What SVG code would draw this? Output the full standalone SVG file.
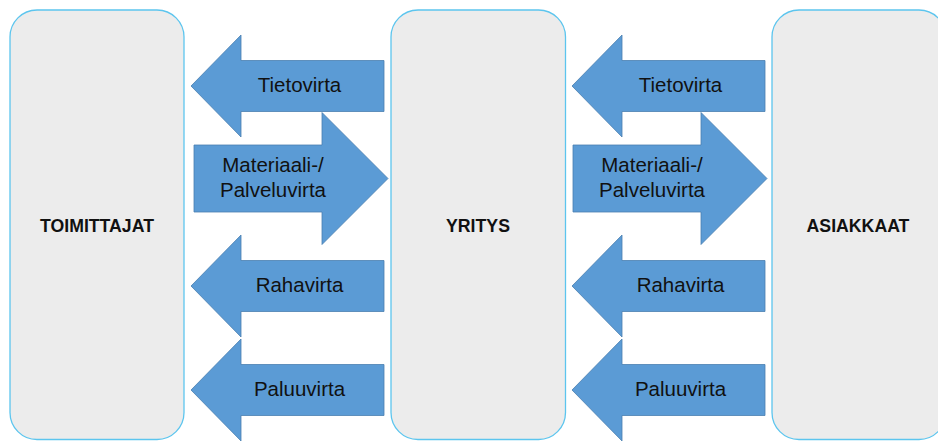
<svg xmlns="http://www.w3.org/2000/svg" width="938" height="441" viewBox="0 0 938 441">
  <defs>
    <style>
      .box { fill: #ececec; stroke: #5cc5ee; stroke-width: 1.3; }
      .arrow { fill: #5b9bd5; stroke: #4a7fb0; stroke-width: 0.8; }
      .lbl { font-family: "Liberation Sans", Arial, sans-serif; font-size: 20.5px; fill: #111; text-anchor: middle; }
      .title { font-family: "Liberation Sans", Arial, sans-serif; font-size: 17.7px; font-weight: bold; fill: #111; text-anchor: middle; }
    </style>
    <!-- leftward arrow, tip at origin -->
    <path id="arrowLeft" d="M0,0 L50,-51 L50,-25.5 L193,-25.5 L193,25.5 L50,25.5 L50,51 Z"/>
    <!-- rightward arrow, tip at origin -->
    <path id="arrowRight" d="M0,0 L-66,-66 L-66,-33.5 L-194,-33.5 L-194,33.5 L-66,33.5 L-66,66 Z"/>
  </defs>
  <rect width="938" height="441" fill="#ffffff"/>

  <g id="toimittajat">
    <rect class="box" x="10" y="10" width="174" height="429.5" rx="27" ry="27"/>
    <text class="title" x="97" y="231.5">TOIMITTAJAT</text>
  </g>
  <g id="yritys">
    <rect class="box" x="391" y="10" width="174.5" height="429.5" rx="27" ry="27"/>
    <text class="title" x="478" y="231.5">YRITYS</text>
  </g>
  <g id="asiakkaat">
    <rect class="box" x="772" y="10" width="174" height="429.5" rx="27" ry="27"/>
    <text class="title" x="858" y="231.5">ASIAKKAAT</text>
  </g>

  <g id="connectors">
    <!-- between TOIMITTAJAT and YRITYS -->
    <g id="flow-left-tieto">
      <use href="#arrowLeft" class="arrow" x="191" y="86"/>
      <text class="lbl" x="299.5" y="92">Tietovirta</text>
    </g>
    <g id="flow-left-materiaali">
      <use href="#arrowRight" class="arrow" x="388" y="178.5"/>
      <text class="lbl" x="273" y="171.7">Materiaali-/</text>
      <text class="lbl" x="273" y="197">Palveluvirta</text>
    </g>
    <g id="flow-left-raha">
      <use href="#arrowLeft" class="arrow" x="191" y="286"/>
      <text class="lbl" x="299.5" y="292">Rahavirta</text>
    </g>
    <g id="flow-left-paluu">
      <use href="#arrowLeft" class="arrow" x="191" y="390"/>
      <text class="lbl" x="299.5" y="396">Paluuvirta</text>
    </g>

    <!-- between YRITYS and ASIAKKAAT -->
    <g id="flow-right-tieto">
      <use href="#arrowLeft" class="arrow" x="572" y="86"/>
      <text class="lbl" x="680.5" y="92">Tietovirta</text>
    </g>
    <g id="flow-right-materiaali">
      <use href="#arrowRight" class="arrow" x="767" y="178.5"/>
      <text class="lbl" x="652" y="171.7">Materiaali-/</text>
      <text class="lbl" x="652" y="197">Palveluvirta</text>
    </g>
    <g id="flow-right-raha">
      <use href="#arrowLeft" class="arrow" x="572" y="286"/>
      <text class="lbl" x="680.5" y="292">Rahavirta</text>
    </g>
    <g id="flow-right-paluu">
      <use href="#arrowLeft" class="arrow" x="572" y="390"/>
      <text class="lbl" x="680.5" y="396">Paluuvirta</text>
    </g>
  </g>
</svg>
